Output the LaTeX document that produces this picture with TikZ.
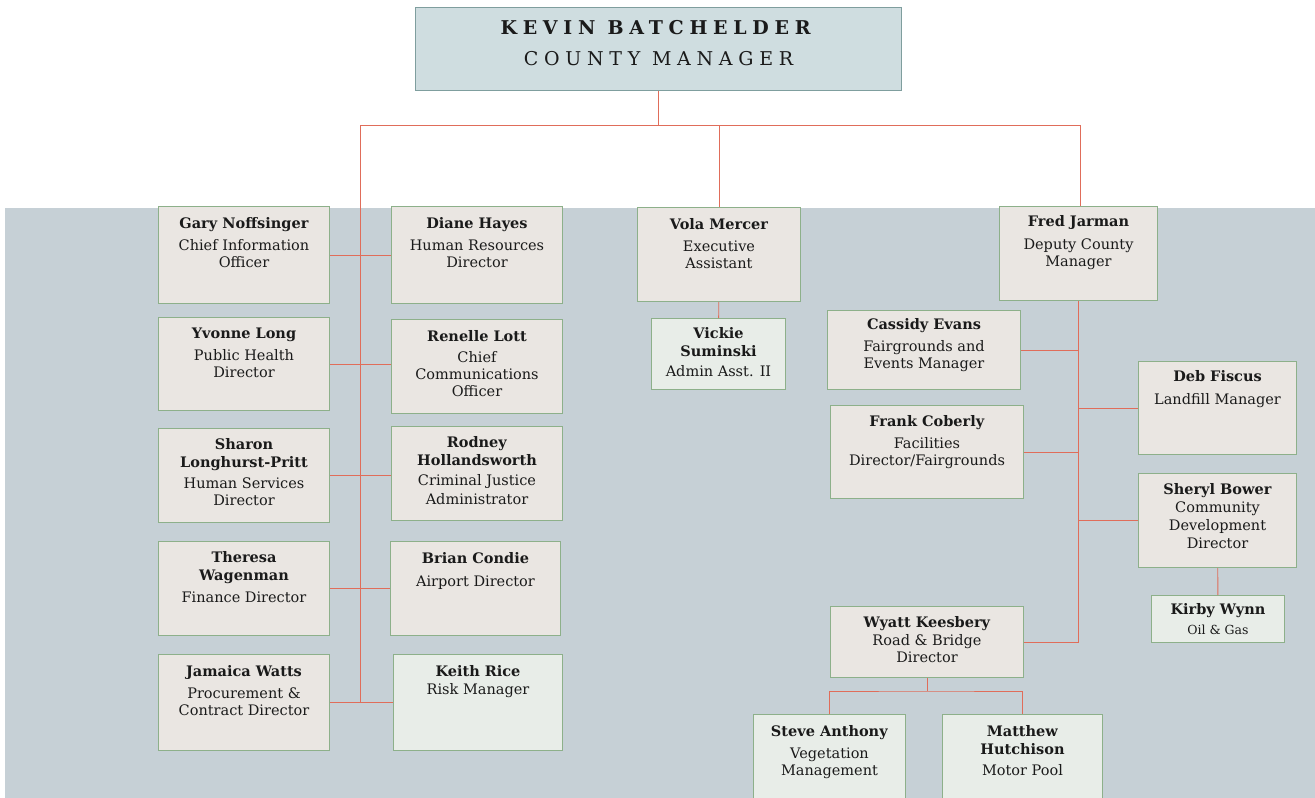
\documentclass[tikz,border=0pt]{standalone}
\usepackage{fontspec}
\setmainfont{DejaVu Serif}
\newfontfamily\titlefont[LetterSpace=30]{DejaVu Serif}
\usetikzlibrary{positioning}

\definecolor{bgband}{HTML}{C6D0D6}
\definecolor{boxfill}{HTML}{EAE6E2}
\definecolor{boxline}{HTML}{8DB08A}
\definecolor{lightfill}{HTML}{E8EDE8}
\definecolor{topfill}{HTML}{CFDDE0}
\definecolor{topline}{HTML}{7F9E9E}
\definecolor{linkcol}{HTML}{E06D5A}
\definecolor{textcol}{HTML}{1A1A1A}

\begin{document}
\begin{tikzpicture}[x=1pt,y=-1pt]

	\tikzstyle{box_dept} = [rectangle, draw=boxline, fill=boxfill, line width=1pt, anchor=north west, inner sep=0pt]
	\tikzstyle{box_light} = [box_dept, fill=lightfill]
	\tikzstyle{txt} = [anchor=north, align=center, inner sep=0pt, text=textcol, font=\fontsize{14.5}{17}\selectfont]
	\tikzstyle{link} = [draw=linkcol, line width=0.9pt]

	\useasboundingbox (0,0) rectangle (1315,798);
	\clip (0,0) rectangle (1315,798);
	\fill[bgband] (5,208) rectangle (1315,798);

%------------------------------------------------------------
	\node[rectangle, draw=topline, fill=topfill, line width=1pt, anchor=north west, minimum width=486, minimum height=83] (manager) at (415,7) {};
	\node[txt, font=\titlefont\fontsize{19}{31}\selectfont] (manager-t) at ([yshift=-13pt]manager.north) {\textbf{KEVIN BATCHELDER}\\COUNTY MANAGER};

	\coordinate (busL) at (360,125);
	\coordinate (busR) at (1080,125);

%------------------------------------------------------------
	\node[box_dept, minimum width=171, minimum height=97] (gary) at (158,206) {};
	\node[txt] (gary-t) at ([yshift=-11pt]gary.north) {\textbf{Gary Noffsinger}\\[5pt]Chief Information\\Officer};

	\node[box_dept, minimum width=171, minimum height=93] (yvonne) at (158,317) {};
	\node[txt] (yvonne-t) at ([yshift=-11pt]yvonne.north) {\textbf{Yvonne Long}\\[5pt]Public Health\\Director};

	\node[box_dept, minimum width=171, minimum height=94] (sharon) at (158,428) {};
	\node[txt] (sharon-t) at ([yshift=-10pt]sharon.north) {\textbf{Sharon}\\[1pt]\textbf{Longhurst-Pritt}\\[4pt]Human Services\\Director};

	\node[box_dept, minimum width=171, minimum height=94] (theresa) at (158,541) {};
	\node[txt] (theresa-t) at ([yshift=-10pt]theresa.north) {\textbf{Theresa}\\[1pt]\textbf{Wagenman}\\[5pt]Finance Director};

	\node[box_dept, minimum width=171, minimum height=96] (jamaica) at (158,654) {};
	\node[txt] (jamaica-t) at ([yshift=-11pt]jamaica.north) {\textbf{Jamaica Watts}\\[5pt]Procurement \&\\Contract Director};

%------------------------------------------------------------
	\node[box_dept, minimum width=171, minimum height=97] (diane) at (391,206) {};
	\node[txt] (diane-t) at ([yshift=-11pt]diane.north) {\textbf{Diane Hayes}\\[5pt]Human Resources\\Director};

	\node[box_dept, minimum width=171, minimum height=94] (renelle) at (391,319) {};
	\node[txt] (renelle-t) at ([yshift=-11pt]renelle.north) {\textbf{Renelle Lott}\\[4pt]Chief\\Communications\\Officer};

	\node[box_dept, minimum width=171, minimum height=94] (rodney) at (391,426) {};
	\node[txt] (rodney-t) at ([yshift=-10pt]rodney.north) {\textbf{Rodney}\\[1pt]\textbf{Hollandsworth}\\[3pt]Criminal Justice\\[2pt]Administrator};

	\node[box_dept, minimum width=170, minimum height=94] (brian) at (390,541) {};
	\node[txt] (brian-t) at ([yshift=-11pt]brian.north) {\textbf{Brian Condie}\\[6pt]Airport Director};

	\node[box_light, minimum width=169, minimum height=96] (keith) at (393,654) {};
	\node[txt] (keith-t) at ([yshift=-11pt]keith.north) {\textbf{Keith Rice}\\[1pt]Risk Manager};

	\path[link] (gary.east) edge (gary.east -| diane.west);
	\path[link] (yvonne.east) edge (yvonne.east -| renelle.west);
	\path[link] (sharon.east) edge (sharon.east -| rodney.west);
	\path[link] (theresa.east) edge (theresa.east -| brian.west);
	\path[link] (jamaica.east) edge (jamaica.east -| keith.west);
	\draw[link] (busL) -- (busL |- keith.west) -- (keith.west);

%------------------------------------------------------------
	\node[box_dept, minimum width=163, minimum height=94] (vola) at (637,207) {};
	\node[txt] (vola-t) at ([yshift=-11pt]vola.north) {\textbf{Vola Mercer}\\[5pt]Executive\\Assistant};

	\node[box_light, minimum width=134, minimum height=71] (vickie) at (651,318) {};
	\node[txt] (vickie-t) at ([yshift=-9pt]vickie.north) {\textbf{Vickie}\\[1pt]\textbf{Suminski}\\[3pt]Admin Asst. II};

	\path[link] (vola) edge (vickie);

%------------------------------------------------------------
	\node[box_dept, minimum width=158, minimum height=94] (fred) at (999,206) {};
	\node[txt] (fred-t) at ([yshift=-9pt]fred.north) {\textbf{Fred Jarman}\\[6pt]Deputy County\\Manager};

	\node[box_dept, minimum width=193, minimum height=79] (cassidy) at (827,310) {};
	\node[txt] (cassidy-t) at ([yshift=-8pt]cassidy.north) {\textbf{Cassidy Evans}\\[5pt]Fairgrounds and\\Events Manager};

	\node[box_dept, minimum width=193, minimum height=93] (frank) at (830,405) {};
	\node[txt] (frank-t) at ([yshift=-10pt]frank.north) {\textbf{Frank Coberly}\\[5pt]Facilities\\Director/Fairgrounds};

	\node[box_dept, minimum width=158, minimum height=93] (deb) at (1138,361) {};
	\node[txt] (deb-t) at ([yshift=-9pt]deb.north) {\textbf{Deb Fiscus}\\[6pt]Landfill Manager};

	\node[box_dept, minimum width=158, minimum height=94] (sheryl) at (1138,473) {};
	\node[txt] (sheryl-t) at ([yshift=-10pt]sheryl.north) {\textbf{Sheryl Bower}\\[1pt]Community\\[1pt]Development\\[1pt]Director};

	\node[box_light, minimum width=133, minimum height=47] (kirby) at (1151,595) {};
	\node[txt] (kirby-t) at ([yshift=-8pt]kirby.north) {\textbf{Kirby Wynn}\\[3pt]{\fontsize{12.5}{14}\selectfont Oil \& Gas}};

	\node[box_dept, minimum width=193, minimum height=71] (wyatt) at (830,606) {};
	\node[txt] (wyatt-t) at ([yshift=-10pt]wyatt.north) {\textbf{Wyatt Keesbery}\\[1pt]Road \& Bridge\\Director};

	\node[box_light, minimum width=152, minimum height=100] (steve) at (753,714) {};
	\node[txt] (steve-t) at ([yshift=-11pt]steve.north) {\textbf{Steve Anthony}\\[5pt]Vegetation\\Management};

	\node[box_light, minimum width=160, minimum height=100] (matthew) at (942,714) {};
	\node[txt] (matthew-t) at ([yshift=-11pt]matthew.north) {\textbf{Matthew}\\[1pt]\textbf{Hutchison}\\[4pt]Motor Pool};

	\draw[link] (fred.south) -- (fred.south |- wyatt.east) -- (wyatt.east);
	\path[link] (cassidy.east) edge (cassidy.east -| fred.south);
	\path[link] (frank.east) edge (frank.east -| fred.south);
	\path[link] (deb.west) edge (deb.west -| fred.south);
	\path[link] (sheryl.west) edge (sheryl.west -| fred.south);
	\path[link] (sheryl) edge (kirby);

	\draw[link] (wyatt.south) -- ++(0,13) coordinate (wbus);
	\draw[link] (steve.north) |- (wbus) -| (matthew.north);

%------------------------------------------------------------
	\draw[link] (manager.south) -- (manager.south |- busL);
	\draw[link] (busL) -- (busR) -- (busR |- fred.north);
	\draw[link] (vola.north |- busL) -- (vola.north);

\end{tikzpicture}
\end{document}
